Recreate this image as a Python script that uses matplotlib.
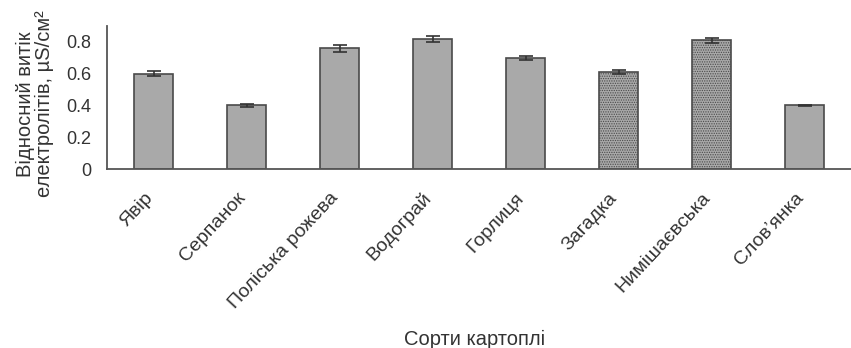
import matplotlib
matplotlib.use("Agg")
import matplotlib.pyplot as plt
import matplotlib.transforms as mtransforms
import numpy as np

plt.rcParams['font.family'] = ['Liberation Sans', 'DejaVu Sans']
plt.rcParams['hatch.color'] = '#e8e8e8'
plt.rcParams['hatch.linewidth'] = 0.6

varieties = ["Явір", "Серпанок", "Поліська рожева", "Водограй", "Горлиця",
             "Загадка", "Нимішаєвська", "Слов’янка"]
leakage = [0.60, 0.40, 0.76, 0.82, 0.70, 0.61, 0.81, 0.40]
errors = [0.015, 0.012, 0.02, 0.018, 0.013, 0.013, 0.014, 0.005]
yticks = [0, 0.2, 0.4, 0.6, 0.8]
ytick_labels = ["0", "0.2", "0.4", "0.6", "0.8"]
stippled = {"Загадка", "Нимішаєвська"}

fig = plt.figure(figsize=(8.51, 3.48), dpi=100)
ax = fig.add_axes([107 / 851, 1 - 169 / 348, 1 - 107 / 851, 142.9 / 348])

x = np.arange(len(varieties))
for xi, name, val, err in zip(x, varieties, leakage, errors):
    hatch = '.......' if name in stippled else None
    ax.bar(xi, val, width=0.42, color='#a9a9a9', edgecolor='#4a4a4a',
           linewidth=1.2, hatch=hatch, zorder=2)
    ax.errorbar(xi, val, yerr=err, fmt='none', ecolor='#333333',
                elinewidth=1.2, capsize=5, capthick=1.2, zorder=3)

ax.set_xlim(-0.5, 7.5)
ax.set_ylim(0, 0.9)
ax.set_yticks(yticks)
ax.set_yticklabels(ytick_labels, fontsize=13, color='#333333')
ax.set_xticks(x)
ax.set_xticklabels(varieties, rotation=47, ha='right', va='center',
                   rotation_mode='anchor', fontsize=14, color='#333333')
ax.tick_params(axis='both', length=0)
ax.tick_params(axis='y', pad=11)
ax.tick_params(axis='x', pad=19)

# nudge rotated category labels slightly left
shift = mtransforms.ScaledTranslation(-4 / 100, 0, fig.dpi_scale_trans)
for lbl in ax.get_xticklabels():
    lbl.set_transform(lbl.get_transform() + shift)

for side in ('top', 'right'):
    ax.spines[side].set_visible(False)
for side in ('left', 'bottom'):
    ax.spines[side].set_color('#555555')
    ax.spines[side].set_linewidth(1.3)

ax.set_ylabel("Відносний витік\nелектролітів, µS/см²", fontsize=14.5,
              color='#333333', linespacing=1.0)
ax.yaxis.set_label_coords((54 - 107) / 744, (169 - 104) / 142.9)
ax.set_xlabel("Сорти картоплі", fontsize=14.5, color='#333333')
ax.xaxis.set_label_coords((475 - 107) / 744, (169 - 330) / 142.9)

fig.savefig("out.png", dpi=100)
